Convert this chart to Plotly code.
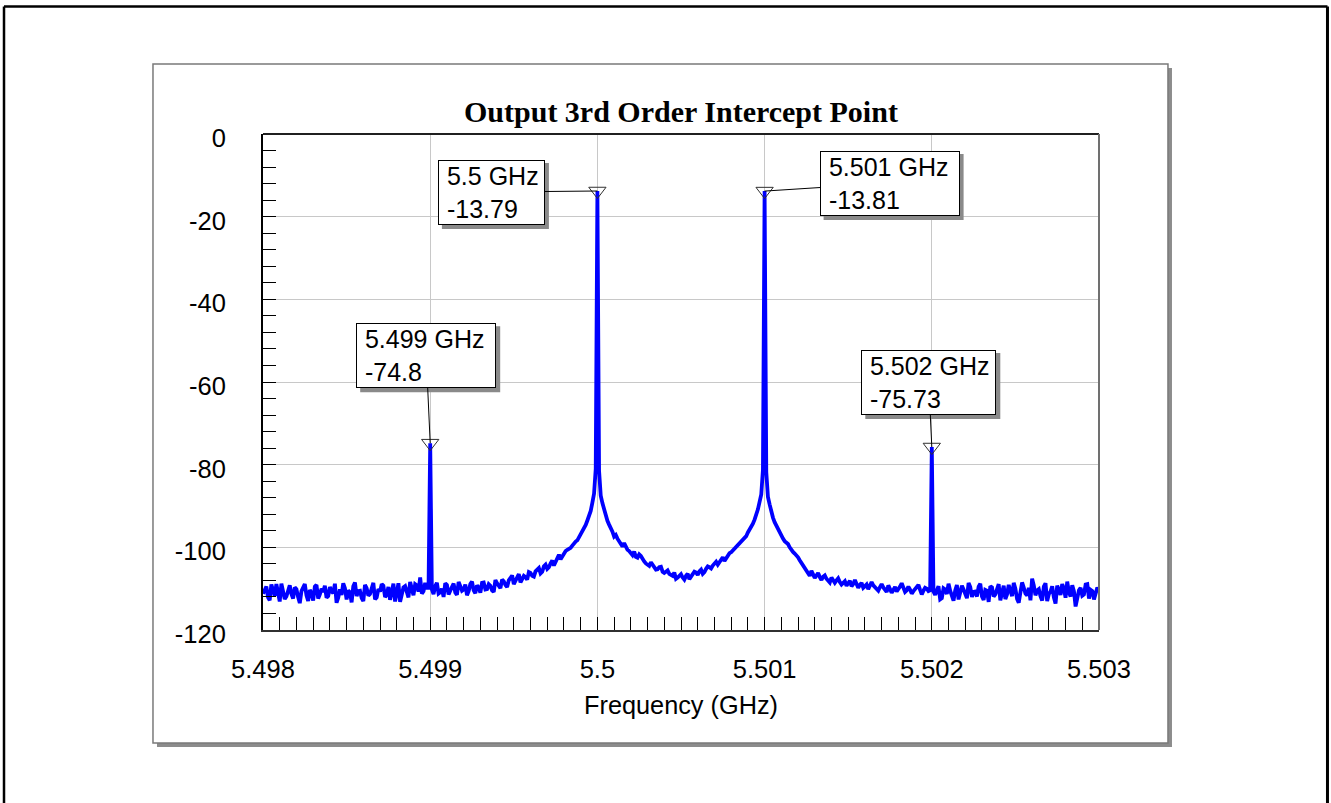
import numpy as np
import plotly.graph_objects as go

# ---------------- data ----------------
# sweep 1: main grid points
f_start = 5.498          # GHz
f_step = 0.00002         # GHz
power_dbm = [
    -111.2, -109.5, -112.8, -110.4, -108.9, -113.1, -110.6, -111.9, -109.2, -112.4,
    -110.1, -113.5, -109.8, -111.6, -110.3, -112.9, -109.1, -111.4, -110.8, -112.2,
    -109.6, -111.1, -113.4, -110.2, -108.7, -112.6, -110.9, -109.4, -111.8, -110.5,
    -113.0, -109.9, -111.3, -108.6, -112.1, -110.7, -109.3, -111.5, -112.7, -108.8,
    -110.4, -113.2, -109.7, -110.9, -108.4, -111.6, -109.2, -107.3, -110.6, -109.8,
    -74.8,
    -111.3, -108.6, -110.9, -112.0, -109.1, -110.7, -108.8, -111.5, -109.4, -110.2,
    -111.6, -108.9, -110.4, -109.2, -111.0, -108.5, -110.1, -109.3, -110.8, -108.7,
    -109.9, -108.2, -109.6, -107.4, -108.9, -107.6, -108.5, -106.9, -107.8, -106.2,
    -107.1, -105.4, -106.3, -104.6, -105.2, -103.9, -104.4, -102.5, -102.9, -101.3,
    -100.6, -100.1, -99.0, -98.3, -96.9, -95.6, -93.5, -91.2, -87.0,
    -13.79,
    -87.5, -91.0, -93.6, -95.2, -97.4, -97.9, -99.3, -99.0, -100.6, -101.4,
    -101.0, -102.5, -102.1, -103.4, -104.2, -103.6, -104.9, -105.3, -104.7, -106.2,
    -105.6, -106.8, -106.1, -107.3, -106.5, -107.8, -106.4, -107.1, -105.9, -106.7,
    -105.4, -106.0, -104.6, -105.1, -103.8, -104.2, -102.9, -103.3, -101.7, -101.2,
    -100.3, -99.6, -98.7, -97.8, -96.4, -95.0, -93.3, -90.8, -87.2,
    -13.81,
    -87.8, -91.4, -93.9, -95.6, -97.1, -98.5, -99.2, -100.7, -101.5, -102.4,
    -103.8, -104.9, -106.3, -105.7, -107.4, -106.2, -107.9, -106.8, -108.1, -107.3,
    -108.6, -107.5, -109.0, -108.2, -108.7, -109.4, -107.9, -109.8, -108.6, -109.3,
    -110.1, -108.4, -109.7, -110.5, -108.9, -110.3, -109.2, -111.0, -109.6, -110.2,
    -108.7, -110.8, -109.5, -111.2, -110.0, -109.1, -111.4, -109.8, -110.6,
    -75.73,
    -111.5, -109.4, -112.3, -110.2, -108.8, -111.7, -110.4, -112.6, -109.3, -111.1,
    -108.6, -112.0, -110.7, -109.5, -111.9, -110.3, -113.2, -109.7, -111.4, -108.9,
    -110.6, -112.5, -109.1, -111.8, -110.0, -113.4, -108.5, -111.2, -109.8, -107.6,
    -111.6, -110.1, -112.9, -108.7, -111.3, -109.4, -113.6, -110.5, -108.9, -112.2,
    -110.8, -109.2, -114.3, -110.4, -111.7, -109.0, -112.4, -110.6, -111.3, -110.9,
]

# sweep 2: points half-way between the main grid points
mid_start = 5.49801      # GHz
power_mid_dbm = [
    -110.3, -112.1, -109.0, -111.7, -110.9, -108.8, -112.5, -110.2, -111.3, -109.7,
    -112.0, -110.6, -108.9, -113.0, -111.1, -109.5, -112.4, -110.0, -109.3, -111.8,
    -110.7, -108.8, -112.2, -111.5, -109.9, -110.4, -113.3, -108.5, -110.6, -112.3,
    -109.1, -111.7, -109.8, -112.6, -110.1, -108.9, -112.0, -109.6, -110.8, -113.1,
    -108.7, -111.0, -109.4, -112.1, -110.3, -108.9, -110.7, -111.2, -108.6,
    -109.8, -110.2,
    -109.4, -111.2, -110.0, -108.7, -111.4, -109.6, -110.9, -108.4, -110.5, -109.0,
    -110.6, -108.3, -111.1, -109.7, -108.6, -110.2, -108.9, -110.4, -107.9,
    -109.3, -107.8, -109.1, -108.0, -106.8, -108.2, -106.5, -107.9, -107.2, -106.0,
    -106.9, -105.8, -105.0, -105.9, -104.2, -104.8, -103.2, -103.6, -101.8, -102.2,
    -100.9, -100.4, -99.6, -98.6, -97.6, -96.2, -94.6, -92.4, -89.2,
    -81.0, -81.5,
    -89.3, -92.4, -94.5, -96.2, -97.0, -98.6, -99.8, -100.1, -100.9,
    -101.9, -102.3, -101.7, -103.0, -103.9, -104.5, -104.1, -105.4, -104.8, -105.9,
    -106.0, -106.4, -106.9, -107.6, -106.8, -107.3, -106.9, -107.7, -106.3, -106.1,
    -105.8, -106.4, -105.2, -104.8, -104.4, -103.5, -103.6, -102.4, -102.6, -101.4,
    -100.8, -99.9, -99.2, -98.1, -97.3, -95.8, -94.3, -92.2, -89.0,
    -81.3, -81.8,
    -89.6, -92.8, -94.8, -96.4, -97.9, -98.8, -100.0, -101.1, -101.9,
    -103.1, -104.4, -105.6, -106.9, -106.4, -106.8, -107.2, -107.1, -107.6, -108.5,
    -107.9, -108.0, -108.4, -108.6, -109.3, -108.1, -108.9, -109.0, -109.1, -109.8,
    -109.0, -109.4, -109.2, -110.2, -109.6, -109.7, -110.8, -110.1, -110.3, -110.7,
    -109.5, -109.9, -110.4, -110.2, -110.6, -109.4, -110.3, -110.5, -110.0,
    -110.4, -110.7,
    -110.4, -112.6, -109.9, -111.3, -110.5, -112.9, -109.1, -111.0, -110.2, -112.3,
    -109.6, -110.8, -111.9, -108.8, -112.7, -110.5, -109.4, -111.9, -110.1, -112.8,
    -109.3, -111.4, -110.2, -108.6, -112.5, -110.9, -109.7, -111.6, -112.8, -109.2,
    -110.4, -111.8, -109.5, -113.0, -110.7, -112.1, -109.3, -111.5, -110.0, -108.3,
    -111.9, -110.6, -112.7, -109.8, -111.4, -108.9, -110.3, -112.6, -109.7,
]

marker_freq = [5.499, 5.5, 5.501, 5.502]
marker_dbm = [-74.8, -13.79, -13.81, -75.73]
marker_label = ["5.499 GHz<br>-74.8", "5.5 GHz<br>-13.79",
                "5.501 GHz<br>-13.81", "5.502 GHz<br>-75.73"]

x_tick_vals = [5.498, 5.499, 5.5, 5.501, 5.502, 5.503]
x_tick_text = ["5.498", "5.499", "5.5", "5.501", "5.502", "5.503"]
y_tick_vals = [0, -20, -40, -60, -80, -100, -120]
y_tick_text = ["0", "-20", "-40", "-60", "-80", "-100", "-120"]

title_text = "Output 3rd Order Intercept Point"
x_title = "Frequency (GHz)"

# ---------------- build ----------------
f_main = np.round(f_start + f_step * np.arange(len(power_dbm)), 6)
f_mid = np.round(mid_start + f_step * np.arange(len(power_mid_dbm)), 6)
all_f = np.concatenate([f_main, f_mid])
all_p = np.concatenate([np.array(power_dbm), np.array(power_mid_dbm)])
order = np.argsort(all_f, kind="stable")
all_f = all_f[order]
all_p = all_p[order]

FONT = "Liberation Sans, Arial, sans-serif"
TFS = 25.5

fig = go.Figure()
fig.add_trace(go.Scatter(x=all_f, y=all_p, mode="lines",
                         line=dict(color="#0000FF", width=3.8),
                         hoverinfo="skip"))
fig.add_trace(go.Scatter(x=marker_freq, y=marker_dbm, mode="markers",
                         marker=dict(symbol="triangle-down-open", size=15,
                                     color="#303030", line=dict(width=1, color="#303030")),
                         hoverinfo="skip"))

# label box offsets (pixels) from each marker, and text widths
label_dx = [-4, -106, 125, -3]
label_dy = [-88, 1, -8, -65]
label_w = [136, 103, 136, 131]
BOX_H = 66
PAD = 1

annotations = []
shapes = []
for f, p, t, dx, dy, w in zip(marker_freq, marker_dbm, marker_label, label_dx, label_dy, label_w):
    W = w + 2 * PAD + 2
    cx = dx + 4
    cy = -(dy + 4)
    shapes.append(dict(type="rect", xref="x", yref="y",
                       xsizemode="pixel", ysizemode="pixel", xanchor=f, yanchor=p,
                       x0=cx - W / 2, x1=cx + W / 2, y0=cy - BOX_H / 2, y1=cy + BOX_H / 2,
                       fillcolor="#8a8a8a", line=dict(width=0), layer="above"))
    annotations.append(dict(
        x=f, y=p, xref="x", yref="y", text="\u00a0" + t.replace("<br>", "<br>\u00a0"),
        showarrow=True, ax=dx, ay=dy, arrowcolor="black",
        arrowwidth=1, arrowhead=0, standoff=0,
        bgcolor="white", bordercolor="black", borderwidth=1, borderpad=PAD,
        font=dict(family=FONT, size=25, color="black"), align="left", width=w))

annotations.append(dict(
    x=0.5, y=(630 - 112) / 496, xref="paper", yref="paper", showarrow=False,
    text="<b>" + title_text + "</b>", xanchor="center", yanchor="middle",
    font=dict(family="Liberation Serif, Times New Roman, serif", size=30, color="black")))

shapes += [
    # outer frame
    dict(type="line", xref="paper", yref="paper", x0=-0.3098, x1=-0.3098, y0=-0.5, y1=1.2571,
         line=dict(color="black", width=2.5), layer="below"),
    dict(type="line", xref="paper", yref="paper", x0=-0.3098, x1=1.2733, y0=1.2571, y1=1.2571,
         line=dict(color="black", width=2.5), layer="below"),
    dict(type="line", xref="paper", yref="paper", x0=1.2733, x1=1.2733, y0=-0.5, y1=1.2571,
         line=dict(color="black", width=3), layer="below"),
    # panel shadow
    dict(type="rect", xref="paper", yref="paper", x0=-0.1268, x1=1.0873, y0=-0.2359, y1=1.1331,
         fillcolor="#8c8c8c", line=dict(width=0), layer="below"),
    # panel
    dict(type="rect", xref="paper", yref="paper", x0=-0.1316, x1=1.0825, y0=-0.2278, y1=1.1411,
         fillcolor="white", line=dict(color="#7a7a7a", width=1.5), layer="below"),
    # plot frame top and right
    dict(type="line", xref="paper", yref="paper", x0=0, x1=1, y0=1, y1=1,
         line=dict(color="#202020", width=2)),
    dict(type="line", xref="paper", yref="paper", x0=1, x1=1, y0=0, y1=1,
         line=dict(color="#707070", width=2)),
]

fig.update_layout(
    width=1331, height=803,
    margin=dict(l=263, r=232, t=134, b=173, autoexpand=False),
    paper_bgcolor="white", plot_bgcolor="rgba(0,0,0,0)",
    showlegend=False,
    annotations=annotations, shapes=shapes,
    font=dict(family=FONT, size=TFS, color="black"),
)

fig.update_xaxes(
    range=[5.498, 5.503], tickmode="array", tickvals=x_tick_vals, ticktext=x_tick_text,
    ticks="inside", ticklen=13, tickcolor="black", tickwidth=1,
    showline=True, linecolor="#303030", linewidth=2,
    showgrid=True, gridcolor="#c8c8c8", gridwidth=1, zeroline=False,
    tickfont=dict(family=FONT, size=TFS), ticklabelstandoff=15,
    minor=dict(tickmode="linear", tick0=5.498, dtick=0.0001, ticks="inside", ticklen=13,
               tickcolor="black", tickwidth=1, showgrid=False),
    title=dict(text=x_title, font=dict(family=FONT, size=25.3), standoff=15),
    automargin=False,
)
fig.update_yaxes(
    range=[-120, 0], tickmode="array", tickvals=y_tick_vals, ticktext=y_tick_text,
    ticks="inside", ticklen=13, tickcolor="black", tickwidth=1,
    showline=True, linecolor="black", linewidth=2,
    showgrid=True, gridcolor="#c8c8c8", gridwidth=1, zeroline=False,
    tickfont=dict(family=FONT, size=TFS), ticklabelstandoff=30, ticklabelshift=4,
    minor=dict(tickmode="linear", tick0=0, dtick=4, ticks="inside", ticklen=13,
               tickcolor="black", tickwidth=1, showgrid=False),
    automargin=False,
)

fig.write_html("out.html", config={"displayModeBar": False, "staticPlot": True},
               post_script="document.body.style.margin='0px';document.body.style.overflow='hidden';")
